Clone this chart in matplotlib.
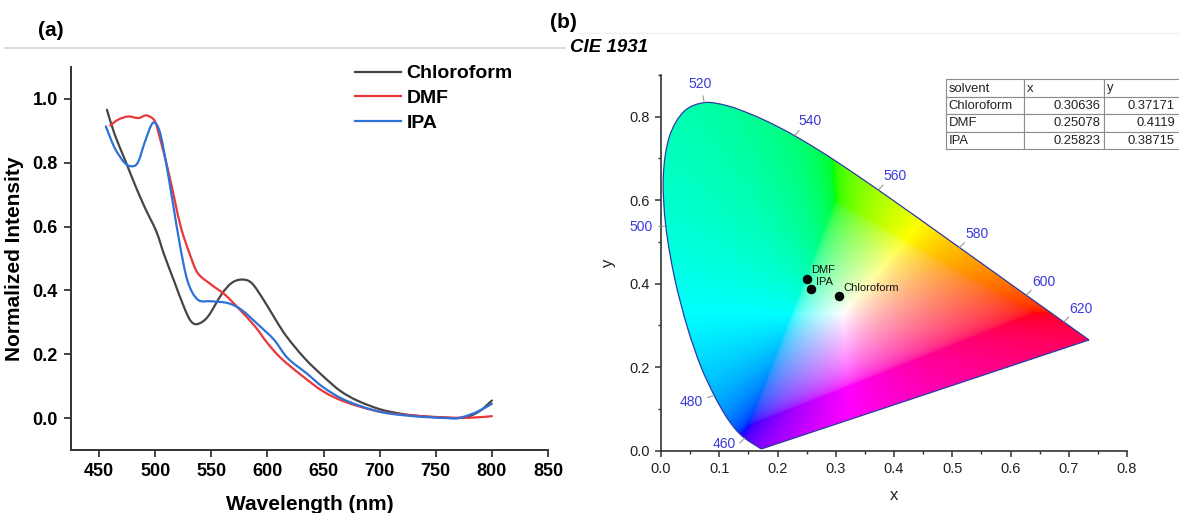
import numpy as np
import matplotlib
matplotlib.use("Agg")
import matplotlib.pyplot as plt
from matplotlib.path import Path
from matplotlib.patches import PathPatch, Rectangle
from matplotlib.lines import Line2D

plt.rcParams['font.family'] = ['Liberation Sans', 'DejaVu Sans']

W, H = 1179, 513

# ---------------- panel (a): normalized emission spectra ----------------
chl_nm = [457, 464, 473, 482, 491, 501, 508, 517, 526, 532, 538, 547, 559, 568,
          577, 586, 597, 607, 617, 633, 650, 665, 680, 700, 720, 740, 760, 770,
          780, 790, 800]
chl_int = [0.966, 0.888, 0.810, 0.731, 0.658, 0.585, 0.512, 0.428, 0.345, 0.303,
           0.295, 0.318, 0.387, 0.423, 0.434, 0.423, 0.368, 0.31, 0.256, 0.188,
           0.13, 0.085, 0.055, 0.028, 0.013, 0.005, 0.001, 0.0, 0.006, 0.024,
           0.055]

dmf_nm = [460, 467, 476, 485, 491, 495, 500, 505, 511, 517, 523, 531, 538, 550,
          562, 574, 589, 600, 612, 630, 650, 670, 700, 730, 760, 780, 800]
dmf_int = [0.917, 0.935, 0.945, 0.940, 0.948, 0.945, 0.928, 0.867, 0.784, 0.690,
           0.596, 0.512, 0.454, 0.418, 0.387, 0.345, 0.287, 0.235, 0.188, 0.135,
           0.083, 0.05, 0.02, 0.008, 0.002, 0.001, 0.006]

ipa_nm = [456, 464, 473, 480, 485, 491, 498, 504, 510, 516, 522, 529, 538, 550,
          565, 577, 592, 606, 618, 635, 650, 670, 700, 730, 760, 770, 780, 790,
          800]
ipa_int = [0.914, 0.846, 0.799, 0.789, 0.804, 0.867, 0.925, 0.898, 0.794, 0.669,
           0.543, 0.428, 0.371, 0.366, 0.360, 0.339, 0.292, 0.245, 0.188, 0.14,
           0.096, 0.055, 0.02, 0.006, 0.0, 0.0, 0.01, 0.025, 0.045]

# ---------------- panel (b): CIE 1931 chromaticity ----------------
locus_nm = list(range(380, 705, 5))
locus_x = [0.1741, 0.1740, 0.1738, 0.1736, 0.1733, 0.1730, 0.1726, 0.1721, 0.1714,
           0.1703, 0.1689, 0.1669, 0.1644, 0.1611, 0.1566, 0.1510, 0.1440, 0.1355,
           0.1241, 0.1096, 0.0913, 0.0687, 0.0454, 0.0235, 0.0082, 0.0039, 0.0139,
           0.0389, 0.0743, 0.1142, 0.1547, 0.1929, 0.2296, 0.2658, 0.3016, 0.3373,
           0.3731, 0.4087, 0.4441, 0.4788, 0.5125, 0.5448, 0.5752, 0.6029, 0.6270,
           0.6482, 0.6658, 0.6801, 0.6915, 0.7006, 0.7079, 0.7140, 0.7190, 0.7230,
           0.7260, 0.7283, 0.7300, 0.7311, 0.7320, 0.7327, 0.7334, 0.7340, 0.7344,
           0.7346, 0.7347]
locus_y = [0.0050, 0.0050, 0.0049, 0.0049, 0.0048, 0.0048, 0.0048, 0.0048, 0.0051,
           0.0058, 0.0069, 0.0086, 0.0109, 0.0138, 0.0177, 0.0227, 0.0297, 0.0399,
           0.0578, 0.0868, 0.1327, 0.2007, 0.2950, 0.4127, 0.5384, 0.6548, 0.7502,
           0.8120, 0.8338, 0.8262, 0.8059, 0.7816, 0.7543, 0.7243, 0.6923, 0.6589,
           0.6245, 0.5896, 0.5547, 0.5202, 0.4866, 0.4544, 0.4242, 0.3965, 0.3725,
           0.3514, 0.3340, 0.3197, 0.3083, 0.2993, 0.2920, 0.2859, 0.2809, 0.2770,
           0.2740, 0.2717, 0.2700, 0.2689, 0.2680, 0.2673, 0.2666, 0.2660, 0.2656,
           0.2654, 0.2653]
label_nm = [460, 480, 500, 520, 540, 560, 580, 600, 620]

solvents = ['Chloroform', 'DMF', 'IPA']
cie_x = [0.30636, 0.25078, 0.25823]
cie_y = [0.37171, 0.4119, 0.38715]
cie_x_txt = ['0.30636', '0.25078', '0.25823']
cie_y_txt = ['0.37171', '0.4119', '0.38715']


def smooth_path(xs, ys, close=False):
    # Catmull-Rom through the points, drawn as cubic Bezier segments
    p = np.column_stack([xs, ys]).astype(float)
    n = len(p)
    verts = [p[0]]
    codes = [Path.MOVETO]
    for i in range(n - 1):
        p0 = p[max(i - 1, 0)]
        p1, p2 = p[i], p[i + 1]
        p3 = p[min(i + 2, n - 1)]
        verts += [p1 + (p2 - p0) / 6, p2 - (p3 - p1) / 6, p2]
        codes += [Path.CURVE4] * 3
    if close:
        verts += [p[0], p[0]]
        codes += [Path.LINETO, Path.CLOSEPOLY]
    return Path(verts, codes)


fig = plt.figure(figsize=(W / 100, H / 100), dpi=100)

# overlay in pixel coords for decorations
ov = fig.add_axes([0, 0, 1, 1], zorder=5)
ov.set_xlim(0, W)
ov.set_ylim(H, 0)
ov.axis('off')
ov.patch.set_alpha(0)


def pbox(l, t, r, b):
    return [l / W, 1 - b / H, (r - l) / W, (b - t) / H]


# ---- (a)
ax = fig.add_axes(pbox(71, 67, 548, 450))
series = [(chl_nm, chl_int, '#454545', 'Chloroform'),
          (dmf_nm, dmf_int, '#e8363b', 'DMF'),
          (ipa_nm, ipa_int, '#2f72d6', 'IPA')]
handles = []
for xs, ys, c, lab in series:
    ax.add_patch(PathPatch(smooth_path(xs, ys), facecolor='none', edgecolor=c,
                           lw=1.6, capstyle='round', joinstyle='round'))
    handles.append(Line2D([], [], color=c, lw=1.6, label=lab))
ax.set_xlim(425, 850)
ax.set_ylim(-0.1, 1.1)
ax.set_xticks(range(450, 851, 50))
ax.set_yticks([0.0, 0.2, 0.4, 0.6, 0.8, 1.0])
ax.set_yticklabels(['0.0', '0.2', '0.4', '0.6', '0.8', '1.0'])
for s in ['top', 'right']:
    ax.spines[s].set_visible(False)
for s in ['left', 'bottom']:
    ax.spines[s].set_color('#333333')
    ax.spines[s].set_linewidth(1.4)
ax.tick_params(direction='out', length=5, width=1.3, color='#333333',
               labelsize=13, pad=4.5)
for t in ax.get_xticklabels() + ax.get_yticklabels():
    t.set_fontweight('bold')
ax.set_xlabel('Wavelength (nm)', fontsize=15, fontweight='bold', labelpad=11)
ax.set_ylabel('Normalized Intensity', fontsize=15, fontweight='bold', labelpad=6)
ax.legend(handles=handles, loc='upper left', bbox_to_anchor=(345 / W, 1 - 55 / H),
          bbox_transform=fig.transFigure, frameon=False, borderpad=0,
          handlelength=2.4, handletextpad=0.25, labelspacing=0.36,
          prop={'weight': 'bold', 'size': 14})

# ---- (b)
bx = fig.add_axes(pbox(661, 75, 1127, 450.7))
bx.set_xlim(0, 0.8)
bx.set_ylim(0, 0.9)

gx = np.linspace(0, 0.8, 700)
gy = np.linspace(0.002, 0.9, 700)
GX, GY = np.meshgrid(gx, gy)
XYZ = np.stack([GX / GY, np.ones_like(GX), (1 - GX - GY) / GY])
M = np.array([[3.2406, -1.5372, -0.4986],
              [-0.9689, 1.8758, 0.0415],
              [0.0557, -0.2040, 1.0570]])
rgb = np.einsum('ij,jkl->kli', M, XYZ)
mn = rgb.min(axis=2, keepdims=True)
rgb = rgb - np.minimum(mn, 0)
rgb = rgb / np.maximum(rgb.max(axis=2, keepdims=True), 1e-9)
rgb = np.clip(np.nan_to_num(rgb), 0, 1) ** (1 / 2.2)

im = bx.imshow(rgb, origin='lower', extent=(0, 0.8, 0.002, 0.9), aspect='auto',
               interpolation='bilinear', zorder=1)
outline = PathPatch(smooth_path(locus_x, locus_y, close=True), facecolor='none',
                    edgecolor='#2f3aa0', lw=0.9, zorder=2)
bx.add_patch(outline)
im.set_clip_path(outline)

nudge = {460: (-2, 7)}
k = 72 / 100
for w in label_nm:
    i = locus_nm.index(w)
    px, py = locus_x[i], locus_y[i]
    tx = locus_x[i + 1] - locus_x[i - 1]
    ty = locus_y[i + 1] - locus_y[i - 1]
    nx, ny = ty, -tx
    nn = np.hypot(nx, ny)
    nx, ny = nx / nn, ny / nn
    if nx * (px - 0.33) + ny * (py - 0.33) < 0:
        nx, ny = -nx, -ny
    bx.annotate('', xy=(px, py), xytext=(nx * 7 * k, ny * 7 * k),
                textcoords='offset points',
                arrowprops=dict(arrowstyle='-', color='#8a8a8a', lw=0.7,
                                shrinkA=0, shrinkB=0), zorder=3)
    dx, dy = nudge.get(w, (0, 0))
    ox = nx * 13 + nx * 11.5 + dx
    oy = ny * 13 + ny * 6 + dy
    bx.annotate(str(w), xy=(px, py), xytext=(ox * k, oy * k),
                textcoords='offset points', ha='center', va='center',
                color='#3a3ad8', fontsize=10, zorder=3)

bx.scatter(cie_x, cie_y, s=34, color='black', zorder=4)
lab_off = {'Chloroform': (3, 1.5), 'DMF': (3, 2.5), 'IPA': (3, 1.5)}
for n, x, y in zip(solvents, cie_x, cie_y):
    bx.annotate(n, xy=(x, y), xytext=lab_off[n], textcoords='offset points',
                ha='left', va='bottom', fontsize=8, color='#111111', zorder=4)

for s in ['top', 'right']:
    bx.spines[s].set_visible(False)
for s in ['left', 'bottom']:
    bx.spines[s].set_color('#333333')
    bx.spines[s].set_linewidth(1.2)
bx.set_xticks(np.round(np.arange(0, 0.81, 0.1), 1))
bx.set_xticks(np.round(np.arange(0.05, 0.8, 0.1), 2), minor=True)
bx.set_yticks([0.0, 0.2, 0.4, 0.6, 0.8])
bx.set_yticks([0.1, 0.3, 0.5, 0.7, 0.9], minor=True)
bx.xaxis.set_major_formatter(matplotlib.ticker.FormatStrFormatter('%.1f'))
bx.yaxis.set_major_formatter(matplotlib.ticker.FormatStrFormatter('%.1f'))
bx.tick_params(which='major', direction='out', length=4, width=1.1,
               color='#333333', labelsize=10.5, labelcolor='#222222', pad=4)
bx.tick_params(which='minor', direction='out', length=2.5, width=1.0,
               color='#333333')
bx.set_xlabel('x', fontsize=12, labelpad=9, color='#222222')
bx.set_ylabel('y', fontsize=12, labelpad=10, color='#222222')

# ---- decorations
ov.plot([5, 565], [48, 48], color='#d6d6d6', lw=1.3)
ov.plot([582, W], [33, 33], color='#f0f0f0', lw=1.0)
ov.text(51, 31, '(a)', fontsize=15, fontweight='bold', ha='center', va='center')
ov.text(563, 22, '(b)', fontsize=15, fontweight='bold', ha='center', va='center')
ov.text(570, 48, 'CIE 1931', fontsize=13.5, fontweight='bold', style='italic',
        ha='left', va='center')

# table (runs to the right edge of the figure)
col_edges = [946, 1024, 1104, 1186]
row_edges = [79.3, 96.7, 114.3, 131.7, 149.3]
rows = [['solvent', 'x', 'y']] + [[n, a, b] for n, a, b in zip(solvents, cie_x_txt, cie_y_txt)]
for r in range(4):
    for c in range(3):
        l, rr = col_edges[c], col_edges[c + 1]
        t, b = row_edges[r], row_edges[r + 1]
        ov.add_patch(Rectangle((l, t), rr - l, b - t, facecolor='white',
                               edgecolor='#8c8c8c', lw=0.8))
        yc = (t + b) / 2 + 0.5
        if r == 0 or c == 0:
            ov.text(l + 2.5, yc, rows[r][c], fontsize=9.4, ha='left', va='center',
                    color='#222222')
        else:
            right = 1101 if c == 1 else 1175
            ov.text(right, yc, rows[r][c], fontsize=9.4, ha='right', va='center',
                    color='#222222')

fig.savefig('out.png', dpi=100)
